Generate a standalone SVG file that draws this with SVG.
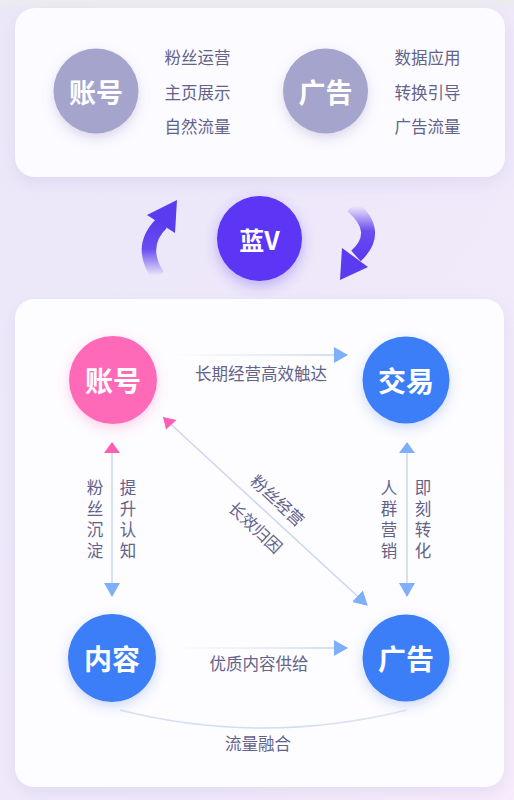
<svg xmlns="http://www.w3.org/2000/svg" width="514" height="800" viewBox="0 0 514 800">
<defs>
<linearGradient id="bg" x1="0" y1="0" x2="1" y2="1">
<stop offset="0" stop-color="#ebe7f8"/>
<stop offset="0.6" stop-color="#efe9fa"/>
<stop offset="1" stop-color="#f6ecfa"/>
</linearGradient>
<linearGradient id="hline" gradientUnits="userSpaceOnUse" x1="173" y1="0" x2="340" y2="0">
<stop offset="0" stop-color="#d3ddf2" stop-opacity="0"/>
<stop offset="1" stop-color="#c4d3ef"/>
</linearGradient>
<linearGradient id="curveG" gradientUnits="userSpaceOnUse" x1="120" y1="0" x2="407" y2="0">
<stop offset="0" stop-color="#d8e2f4"/>
<stop offset="0.5" stop-color="#cfdcf2"/>
<stop offset="1" stop-color="#dde5f5"/>
</linearGradient>
<linearGradient id="arrL" gradientUnits="userSpaceOnUse" x1="0" y1="276" x2="0" y2="222">
<stop offset="0" stop-color="#5b3bf0" stop-opacity="0"/>
<stop offset="0.5" stop-color="#5b3bf0" stop-opacity="0.9"/>
<stop offset="1" stop-color="#5b3bf0"/>
</linearGradient>
<linearGradient id="arrR" gradientUnits="userSpaceOnUse" x1="0" y1="206" x2="0" y2="256">
<stop offset="0" stop-color="#5b3bf0" stop-opacity="0"/>
<stop offset="0.5" stop-color="#5b3bf0" stop-opacity="0.9"/>
<stop offset="1" stop-color="#5b3bf0"/>
</linearGradient>
<filter id="sh" x="-40%" y="-40%" width="180%" height="180%">
<feDropShadow dx="0" dy="5" stdDeviation="6" flood-color="#7a6fb0" flood-opacity="0.25"/>
</filter>
<filter id="shPink" x="-40%" y="-40%" width="180%" height="180%">
<feDropShadow dx="0" dy="4" stdDeviation="6" flood-color="#ff6bb5" flood-opacity="0.3"/>
</filter>
<filter id="shBlue" x="-40%" y="-40%" width="180%" height="180%">
<feDropShadow dx="0" dy="4" stdDeviation="6" flood-color="#3a6fd8" flood-opacity="0.25"/>
</filter>
<filter id="shV" x="-40%" y="-40%" width="180%" height="180%">
<feDropShadow dx="0" dy="5" stdDeviation="7" flood-color="#5b3bf0" flood-opacity="0.35"/>
</filter>
<filter id="card" x="-10%" y="-10%" width="120%" height="130%">
<feDropShadow dx="0" dy="6" stdDeviation="8" flood-color="#b9aee0" flood-opacity="0.25"/>
</filter>
<marker id="hb" viewBox="0 0 14 16" refX="13" refY="8" markerWidth="14" markerHeight="16" markerUnits="userSpaceOnUse" orient="auto">
<path d="M0,0 L14,8 L0,16 Z" fill="#7fb0f7"/>
</marker>
<style>
.t{font-family:"Noto Sans CJK SC","Noto Sans",sans-serif;}
.lbl{font-size:16.5px;fill:#63638a;text-anchor:middle;dominant-baseline:central;}
.vt{writing-mode:vertical-rl;letter-spacing:4.5px;}
.nl{font-size:27px;font-weight:bold;fill:#ffffff;text-anchor:middle;dominant-baseline:central;}
.ln{fill:none;stroke:#cbd7ef;stroke-width:1.5;}
</style>
</defs>

<rect x="0" y="0" width="514" height="800" fill="url(#bg)"/>
<rect x="0" y="0" width="514" height="7" fill="#ebebf0"/>

<rect x="15" y="8" width="490" height="169" rx="20" fill="#fcfbff" filter="url(#card)"/>
<rect x="15" y="299" width="489" height="488" rx="19" fill="#fdfcff" filter="url(#card)"/>

<g id="top-account">
<circle cx="96" cy="91" r="42.5" fill="#a4a4cc" filter="url(#sh)"/>
<text class="t nl" x="96" y="91">账号</text>
<text class="t lbl" x="197.5" y="57">粉丝运营</text>
<text class="t lbl" x="197.5" y="92">主页展示</text>
<text class="t lbl" x="197.5" y="126">自然流量</text>
</g>
<g id="top-ad">
<circle cx="325.5" cy="91" r="42.5" fill="#a4a4cc" filter="url(#sh)"/>
<text class="t nl" x="325.5" y="91">广告</text>
<text class="t lbl" x="427.5" y="57">数据应用</text>
<text class="t lbl" x="427.5" y="92">转换引导</text>
<text class="t lbl" x="427.5" y="126">广告流量</text>
</g>

<g id="cycle-arrows">
<path d="M158 276 Q138 246 162 223" fill="none" stroke="url(#arrL)" stroke-width="14"/>
<path d="M177 200 L147 215 L175 233 Z" fill="#5b3bf0"/>
<path d="M352 206 Q382 232 356 256" fill="none" stroke="url(#arrR)" stroke-width="14"/>
<path d="M340 280 L342 248 L368 267 Z" fill="#5b3bf0"/>
</g>

<g id="bluev">
<circle cx="259.5" cy="238.5" r="42.5" fill="#5b35f5" filter="url(#shV)"/>
<text class="t nl" x="259.5" y="238.5" style="font-size:25px">蓝V</text>
</g>

<g id="connectors">
<line x1="173" y1="355" x2="347" y2="355" stroke="url(#hline)" stroke-width="1.5" marker-end="url(#hb)"/>
<line x1="173" y1="648" x2="347" y2="648" stroke="url(#hline)" stroke-width="1.5" marker-end="url(#hb)"/>
<line class="ln" x1="112" y1="443" x2="112" y2="596" marker-end="url(#hb)"/>
<path d="M120 453 L104 453 L112 442 Z" fill="#ff5fb3"/>
<line class="ln" x1="407" y1="443" x2="407" y2="596" marker-end="url(#hb)"/>
<path d="M415 453 L399 453 L407 442 Z" fill="#7fb0f7"/>
<line class="ln" x1="163" y1="417" x2="367" y2="605" marker-end="url(#hb)"/>
<path d="M163 417 L176.5 420 L166 429.5 Z" fill="#ff5fb3"/>
<path d="M120 710 Q262 746 407 710" fill="none" stroke="url(#curveG)" stroke-width="1.5"/>

<text class="t lbl" x="261" y="373">长期经营高效触达</text>
<text class="t lbl" x="259" y="663">优质内容供给</text>
<text class="t lbl" x="258" y="743">流量融合</text>
<text class="t lbl vt" x="95" y="521">粉丝沉淀</text>
<text class="t lbl vt" x="128" y="521">提升认知</text>
<text class="t lbl vt" x="389" y="521">人群营销</text>
<text class="t lbl vt" x="423" y="521">即刻转化</text>
<text class="t lbl" transform="translate(278 500) rotate(43)">粉丝经营</text>
<text class="t lbl" transform="translate(256 527) rotate(43)">长效归因</text>
</g>

<g id="node-account">
<circle cx="113" cy="380" r="44" fill="#ff6bb8" filter="url(#shPink)"/>
<text class="t nl" x="113" y="380" style="font-size:28px">账号</text>
</g>
<g id="node-trade">
<circle cx="406" cy="380" r="43.5" fill="#3a7ef7" filter="url(#shBlue)"/>
<text class="t nl" x="406" y="380" style="font-size:28px">交易</text>
</g>
<g id="node-content">
<circle cx="112" cy="658" r="44" fill="#3a7ef7" filter="url(#shBlue)"/>
<text class="t nl" x="112" y="658" style="font-size:28px">内容</text>
</g>
<g id="node-ad">
<circle cx="406" cy="658" r="43.5" fill="#3a7ef7" filter="url(#shBlue)"/>
<text class="t nl" x="406" y="658" style="font-size:28px">广告</text>
</g>
</svg>
